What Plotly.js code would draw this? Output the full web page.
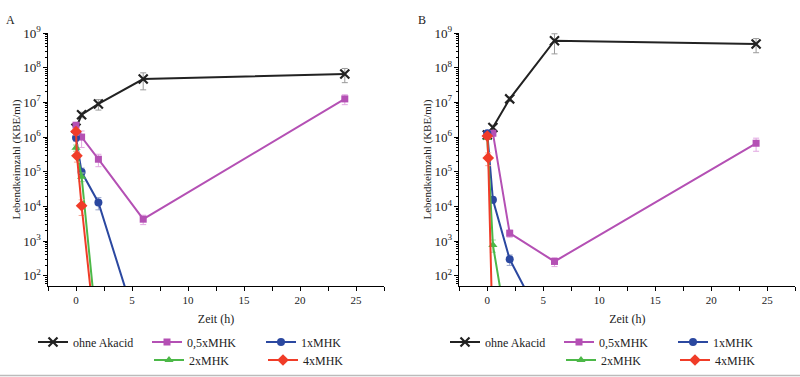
<!DOCTYPE html>
<html>
<head>
<meta charset="utf-8">
<script src="https://cdn.plot.ly/plotly-3.0.1.min.js"></script>
<style>html,body{margin:0;padding:0;background:#fff;}#chart{width:800px;height:377px;}</style>
</head>
<body>
<div id="chart"></div>
<script>
// ---------- Data ----------
const seriesNames = ["ohne Akacid", "0,5xMHK", "1xMHK", "2xMHK", "4xMHK"];

// Panel A
const A_ohne_t   = [0, 0.5, 2, 6, 24];
const A_ohne_y   = [1.8e6, 4.4e6, 9.0e6, 4.7e7, 6.6e7];
const A_ohne_e   = [0.5e6, 0.8e6, 3.0e6, 2.4e7, 2.9e7];

const A_half_t   = [0, 0.5, 2, 6, 24];
const A_half_y   = [2.2e6, 1.0e6, 2.3e5, 4.3e3, 1.26e7];
const A_half_e   = [0.4e6, 0.5e6, 0.9e5, 1.3e3, 4.0e6];

const A_one_t    = [0, 0.5, 2, 6, 24];
const A_one_y    = [9.6e5, 9.8e4, 1.3e4, 1, 1];
const A_one_e    = [2.0e5, 3.0e4, 5.0e3, 0, 0];

const A_two_t    = [0, 0.5, 2, 6, 24];
const A_two_y    = [4.9e5, 7.2e4, 1, 1, 1];
const A_two_e    = [1.0e5, 2.0e4, 0, 0, 0];

const A_four_t   = [0, 0.083, 0.5, 2, 6, 24];
const A_four_y   = [1.45e6, 2.9e5, 1.05e4, 0.3, 0.3, 0.3];
const A_four_e   = [3.0e5, 1.0e5, 5.0e3, 0, 0, 0];

// Panel B
const B_ohne_t   = [0, 0.5, 2, 6, 24];
const B_ohne_y   = [1.15e6, 1.9e6, 1.26e7, 6.0e8, 4.8e8];
const B_ohne_e   = [2.0e5, 3.0e5, 2.0e6, 3.5e8, 2.1e8];

const B_half_t   = [0, 0.5, 2, 6, 24];
const B_half_y   = [1.2e6, 1.3e6, 1.7e3, 2.6e2, 6.6e5];
const B_half_e   = [2.0e5, 2.0e5, 4.0e2, 75, 2.7e5];

const B_one_t    = [0, 0.5, 2, 6, 24];
const B_one_y    = [1.3e6, 1.55e4, 3.0e2, 1, 1];
const B_one_e    = [2.0e5, 3.0e3, 1.0e2, 0, 0];

const B_two_t    = [0, 0.5, 2, 6, 24];
const B_two_y    = [9.5e5, 7.8e2, 1, 1, 1];
const B_two_e    = [1.0e5, 3.0e2, 0, 0, 0];

const B_four_t   = [0, 0.083, 0.5, 2, 6, 24];
const B_four_y   = [1.07e6, 2.5e5, 1, 1, 1, 1];
const B_four_e   = [1.5e5, 1.0e5, 0, 0, 0, 0];

const xTickVals = [0, 5, 10, 15, 20, 25];
const panelLabels = ["A", "B"];
const xTitle = "Zeit (h)";
const yTitle = "Lebendkeimzahl (KBE/ml)";

// ---------- Styles ----------
const FONT = "Liberation Serif, Times New Roman, serif";
const styles = [
  {color: "#222222", err: "#9a9a9a", symbol: "x-thin-open", size: 9, mlw: 2.2},
  {color: "#b450b4", err: "#e2a8e2", symbol: "square", size: 7, mlw: 0},
  {color: "#2b48a0", err: "#9aa6cc", symbol: "circle", size: 8, mlw: 0},
  {color: "#4cb848", err: "#a8dca4", symbol: "triangle-up", size: 8, mlw: 0},
  {color: "#f03c28", err: "#f8a898", symbol: "diamond", size: 9, mlw: 0}
];

function mk(i, t, y, e, xa, ya, legend) {
  const s = styles[i];
  return {
    type: "scatter", mode: "lines+markers",
    x: t, y: y, xaxis: xa, yaxis: ya,
    name: seriesNames[i], legend: legend,
    line: {color: s.color, width: 2},
    marker: {symbol: s.symbol, size: s.size, color: s.color,
             line: {color: s.color, width: s.mlw}},
    error_y: {type: "data", array: e, visible: true, color: s.err, thickness: 1, width: 3}
  };
}

const traces = [
  mk(0, A_ohne_t, A_ohne_y, A_ohne_e, "x", "y", "legend"),
  mk(1, A_half_t, A_half_y, A_half_e, "x", "y", "legend"),
  mk(2, A_one_t,  A_one_y,  A_one_e,  "x", "y", "legend"),
  mk(3, A_two_t,  A_two_y,  A_two_e,  "x", "y", "legend2"),
  mk(4, A_four_t, A_four_y, A_four_e, "x", "y", "legend2"),
  mk(0, B_ohne_t, B_ohne_y, B_ohne_e, "x2", "y2", "legend3"),
  mk(1, B_half_t, B_half_y, B_half_e, "x2", "y2", "legend3"),
  mk(2, B_one_t,  B_one_y,  B_one_e,  "x2", "y2", "legend3"),
  mk(3, B_two_t,  B_two_y,  B_two_e,  "x2", "y2", "legend4"),
  mk(4, B_four_t, B_four_y, B_four_e, "x2", "y2", "legend4")
];

const ML = 20, PW = 800 - ML;   // left margin and plot-area width in px
const px2x = (px) => (px - ML) / PW;

function xaxisDef(domain, anchor) {
  return {
    domain: domain, anchor: anchor, range: [-2.5, 27.5],
    tickvals: xTickVals, ticks: "outside", ticklen: 4, tickwidth: 1, tickcolor: "#000",
    minor: {tickvals: [-2.5, 2.5, 7.5, 12.5, 17.5, 22.5, 27.5], ticks: "outside", ticklen: 4, tickcolor: "#000"},
    showline: true, linecolor: "#000", linewidth: 1, showgrid: false, zeroline: false,
    tickfont: {family: FONT, size: 11, color: "#222"},
    title: {text: xTitle, font: {family: FONT, size: 12, color: "#222"}, standoff: 9}
  };
}
function yaxisDef(anchor) {
  return {
    domain: [0, 1], anchor: anchor, type: "log", range: [Math.log10(51), 9],
    dtick: 1, exponentformat: "power", showexponent: "all",
    ticks: "outside", ticklen: 4, tickwidth: 1, tickcolor: "#000",
    minor: {dtick: "D1", ticks: "outside", ticklen: 2, tickcolor: "#000"},
    showline: true, linecolor: "#000", linewidth: 1, showgrid: false, zeroline: false,
    tickfont: {family: FONT, size: 10.5, color: "#222"},
    title: {text: yTitle, font: {family: FONT, size: 11, color: "#222"}, standoff: 0}
  };
}

function leg(xpx, ypx) {
  return {
    orientation: "h", xref: "container", yref: "container",
    x: xpx / 800, y: 1 - ypx / 377, xanchor: "left", yanchor: "middle",
    entrywidth: 69, entrywidthmode: "pixels", tracegroupgap: 0,
    font: {family: FONT, size: 12, color: "#222"}, bgcolor: "rgba(0,0,0,0)", borderwidth: 0
  };
}

const layout = {
  width: 800, height: 377,
  margin: {l: ML, r: 0, t: 33, b: 91},
  paper_bgcolor: "#fff", plot_bgcolor: "#fff",
  font: {family: FONT, size: 11, color: "#222"},
  xaxis: xaxisDef([px2x(48), px2x(384)], "y"),
  yaxis: yaxisDef("x"),
  xaxis2: xaxisDef([px2x(459.3), px2x(795.3)], "y2"),
  yaxis2: yaxisDef("x2"),
  legend: leg(33, 342),
  legend2: leg(149, 360),
  legend3: leg(445, 342),
  legend4: leg(561, 360),
  annotations: [
    {text: panelLabels[0], xref: "paper", yref: "paper", x: px2x(10), y: (286 - 20) / 253,
     showarrow: false, xanchor: "center", yanchor: "middle", font: {family: FONT, size: 12, color: "#222"}},
    {text: panelLabels[1], xref: "paper", yref: "paper", x: px2x(422), y: (286 - 20) / 253,
     showarrow: false, xanchor: "center", yanchor: "middle", font: {family: FONT, size: 12, color: "#222"}}
  ],
  shapes: [
    {type: "line", xref: "paper", yref: "paper", x0: px2x(0), x1: 1, y0: -(375.5 - 286) / 253, y1: -(375.5 - 286) / 253,
     line: {color: "#bbbbbb", width: 1.5}}
  ]
};

Plotly.newPlot("chart", traces, layout, {displayModeBar: false, staticPlot: true});
</script>
</body>
</html>
